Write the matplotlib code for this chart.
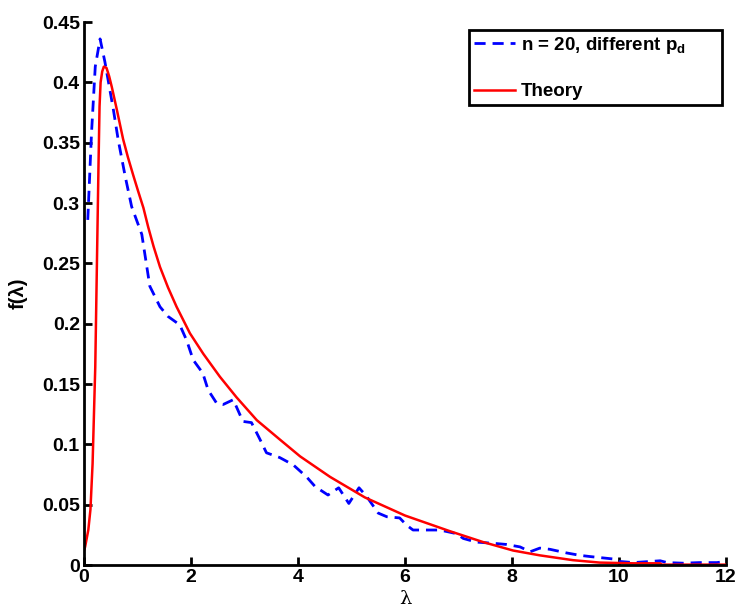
import matplotlib
matplotlib.use("Agg")
import matplotlib.pyplot as plt

plt.rcParams['font.family'] = ['Liberation Sans', 'DejaVu Sans']
plt.rcParams['mathtext.fontset'] = 'custom'
plt.rcParams['mathtext.rm'] = 'Liberation Sans:bold'
plt.rcParams['mathtext.it'] = 'Liberation Sans:bold'
plt.rcParams['mathtext.bf'] = 'Liberation Sans:bold'

# simulated density, n = 20, different p_d
sim_x = [0.07, 0.14, 0.21, 0.30, 0.39, 0.55, 0.64, 0.77, 0.89, 1.08, 1.23, 1.42,
         1.57, 1.79, 1.92, 2.04, 2.22, 2.32, 2.48, 2.60, 2.79, 2.97, 3.13, 3.29,
         3.41, 3.66, 3.91, 4.16, 4.32, 4.56, 4.76, 4.95, 5.14, 5.28, 5.50, 5.66,
         5.90, 6.03, 6.15, 6.65, 6.96, 7.09, 7.33, 7.65, 7.90, 8.15, 8.34, 8.52,
         8.71, 9.02, 9.27, 9.46, 9.89, 10.0, 10.27, 10.77, 10.9, 11.2, 11.5, 11.83, 12.0]
sim_y = [0.286, 0.358, 0.413, 0.436, 0.417, 0.377, 0.352, 0.322, 0.297, 0.274, 0.231, 0.214,
         0.206, 0.199, 0.186, 0.170, 0.159, 0.145, 0.134, 0.133, 0.137, 0.119, 0.118, 0.104,
         0.093, 0.089, 0.083, 0.073, 0.065, 0.058, 0.064, 0.051, 0.064, 0.057, 0.043, 0.040,
         0.039, 0.033, 0.029, 0.029, 0.026, 0.022, 0.019, 0.018, 0.017, 0.015, 0.011, 0.014,
         0.013, 0.010, 0.008, 0.007, 0.005, 0.003, 0.002, 0.0035, 0.002, 0.0015, 0.002, 0.002, 0.003]

# theoretical density
th_x = [0.0, 0.02, 0.08, 0.12, 0.16, 0.21, 0.24, 0.27, 0.29, 0.31, 0.34, 0.37, 0.42,
        0.47, 0.52, 0.61, 0.73, 0.82, 0.92, 1.01, 1.11, 1.20, 1.30, 1.42, 1.57, 1.73,
        1.98, 2.23, 2.54, 2.85, 3.23, 3.66, 4.04, 4.60, 5.25, 6.0, 6.84, 7.46, 8.02,
        8.52, 9.14, 9.64, 10.27, 10.77, 10.80, 12.0]
th_y = [0.012, 0.015, 0.029, 0.046, 0.084, 0.164, 0.247, 0.330, 0.380, 0.400, 0.409, 0.413, 0.412,
        0.405, 0.396, 0.378, 0.353, 0.338, 0.323, 0.310, 0.296, 0.280, 0.264, 0.247, 0.230, 0.214,
        0.192, 0.175, 0.156, 0.139, 0.120, 0.104, 0.090, 0.073, 0.056, 0.041, 0.028, 0.019, 0.012,
        0.008, 0.004, 0.002, 0.0014, 0.0014, 0.0003, 0.0003]

fig = plt.figure(figsize=(7.39, 6.13), dpi=100)
ax = fig.add_axes([0.1137, 0.0783, 0.8687, 0.8858])

ax.plot(sim_x, sim_y, color='blue', linestyle=(0, (4, 2.5)), linewidth=2,
        label=r'n = 20, different p$_{\mathrm{d}}$')
ax.plot(th_x, th_y, color='red', linewidth=1.8, label='Theory')

ax.set_xlim(0, 12)
ax.set_ylim(0, 0.45)
ax.set_xticks(range(0, 13, 2))
ax.set_yticks([0, 0.05, 0.1, 0.15, 0.2, 0.25, 0.3, 0.35, 0.4, 0.45])
ax.set_yticklabels(['0', '0.05', '0.1', '0.15', '0.2', '0.25', '0.3', '0.35', '0.4', '0.45'])

for s in ['top', 'right']:
    ax.spines[s].set_visible(False)
for s in ['left', 'bottom']:
    ax.spines[s].set_linewidth(2)
ax.tick_params(direction='in', length=6, width=2, labelsize=14, pad=3)
for lab in ax.get_xticklabels() + ax.get_yticklabels():
    lab.set_fontweight('bold')

ax.set_xlabel('λ', fontsize=14, family='DejaVu Serif', labelpad=3)
ax.set_ylabel('f(λ)', fontsize=14.5, fontweight='bold', labelpad=10)

leg = ax.legend(loc='upper left', bbox_to_anchor=(0.5997, 0.847, 0.394, 0.138),
                mode='expand', prop={'weight': 'bold', 'size': 13.5}, fancybox=False,
                edgecolor='black', framealpha=1, handlelength=2.2,
                handletextpad=0.3, borderpad=0.25, labelspacing=1.45,
                borderaxespad=0)
leg.get_frame().set_linewidth(2)

fig.savefig('out.png', dpi=100)
